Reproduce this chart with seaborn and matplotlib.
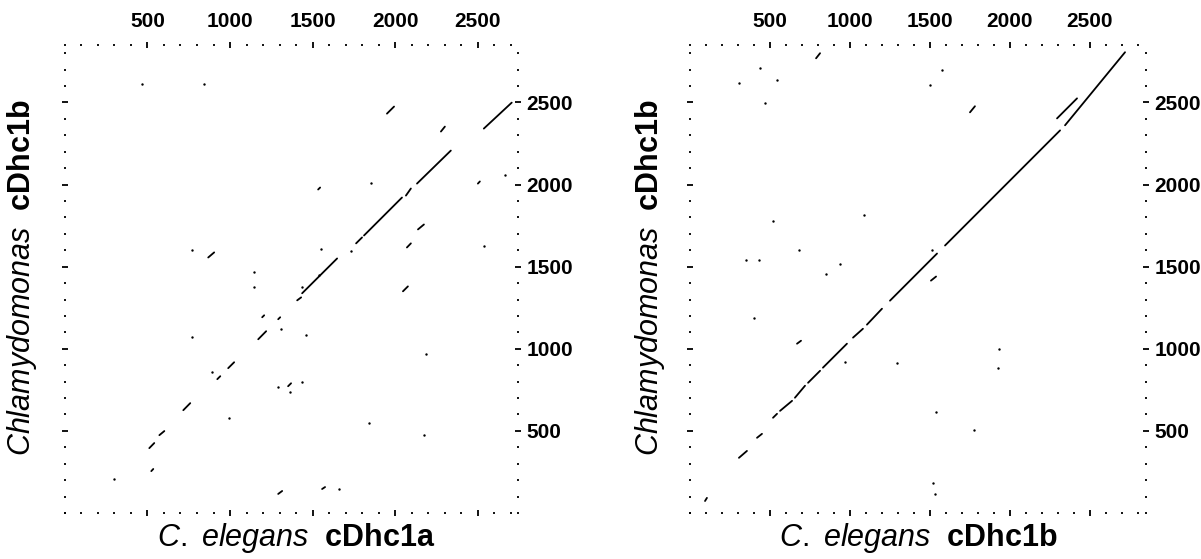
import numpy as np
import pandas as pd
import matplotlib
matplotlib.use('Agg')
import matplotlib.pyplot as plt
import seaborn as sns
from matplotlib.ticker import MultipleLocator

# Left dot plot: C. elegans cDhc1a (x) vs Chlamydomonas cDhc1b (y), residue numbers
left_x0 = [2538, 2278, 1951, 2133, 2066, 1812, 1764, 1437, 1407, 2139, 2072, 868, 2048, 1171,
           989, 923, 1352, 717, 572, 511, 523, 1292, 1558, 1195, 1292, 2502, 1534]
left_y0 = [2341, 2323, 2432, 2006, 1933, 1690, 1642, 1338, 1295, 1727, 1617, 1556, 1350, 1058,
           882, 815, 772, 626, 474, 395, 255, 116, 146, 1192, 1180, 2006, 1970]
left_x1 = [2707, 2302, 1994, 2338, 2096, 2042, 1800, 1649, 1431, 2175, 2096, 904, 2078, 1219,
           1025, 941, 1370, 759, 602, 541, 535, 1316, 1576, 1207, 1304, 2514, 1546]
left_y1 = [2499, 2353, 2475, 2207, 1976, 1921, 1678, 1550, 1313, 1757, 1642, 1587, 1380, 1107,
           918, 833, 790, 669, 499, 426, 268, 134, 158, 1204, 1192, 2019, 1982]
left_dot_x = [1540, 2538, 1552, 771, 1143, 1310, 1364, 1437, 1661, 2175, 299, 469, 844, 2665,
              771, 996, 1843, 2187, 1855, 1734, 1437, 1461, 1146, 892, 1292]
left_dot_y = [1447, 1623, 1605, 1599, 1374, 1119, 736, 796, 146, 474, 207, 2614, 2614, 2061,
              1070, 578, 547, 967, 2012, 1593, 1374, 1082, 1465, 857, 766]

# Right dot plot: C. elegans cDhc1b (x) vs Chlamydomonas cDhc1b (y)
right_x0 = [2344, 1594, 1250, 1106, 1019, 831, 738, 656, 563, 519, 419, 306, 94, 669, 1506,
            788, 2294, 1750]
right_y0 = [2361, 1629, 1293, 1147, 1068, 885, 793, 702, 622, 580, 458, 336, 73, 1031, 1415,
            2769, 2403, 2440]
right_x1 = [2719, 2313, 1544, 1200, 1081, 981, 813, 719, 638, 544, 450, 356, 106, 694, 1538,
            813, 2419, 1781]
right_y1 = [2806, 2330, 1580, 1244, 1122, 1031, 866, 775, 683, 604, 482, 378, 92, 1049, 1440,
            2800, 2525, 2477]
right_dot_x = [519, 1088, 681, 431, 350, 938, 850, 400, 969, 1294, 1931, 1925, 1538, 1775,
               1519, 1531, 1512, 306, 438, 544, 469, 1500, 1575]
right_dot_y = [1781, 1812, 1604, 1543, 1543, 1519, 1458, 1190, 921, 915, 1000, 885, 616, 506,
               183, 116, 1604, 2617, 2708, 2635, 2495, 2605, 2696]

left_xmax, left_ymax = 2745, 2850
right_xmax, right_ymax = 2850, 2850
tick_labels = [500, 1000, 1500, 2000, 2500]

sns.set_style("white")
plt.rcParams['font.family'] = ['Liberation Sans', 'DejaVu Sans']
plt.rcParams['mathtext.fontset'] = 'custom'
plt.rcParams['mathtext.rm'] = 'Liberation Sans'
plt.rcParams['mathtext.it'] = 'Liberation Sans:italic'
plt.rcParams['mathtext.bf'] = 'Liberation Sans:bold'
plt.rcParams['text.color'] = 'black'
plt.rcParams['xtick.color'] = 'black'
plt.rcParams['ytick.color'] = 'black'


def seg_frame(x0, y0, x1, y1):
    rows = []
    for i in range(len(x0)):
        rows.append({'seg': i, 'x': x0[i], 'y': y0[i]})
        rows.append({'seg': i, 'x': x1[i], 'y': y1[i]})
    return pd.DataFrame(rows)


def dot_panel(ax, x0, y0, x1, y1, dx, dy, xmax, ymax):
    segs = seg_frame(x0, y0, x1, y1)
    sns.lineplot(data=segs, x='x', y='y', units='seg', estimator=None, sort=False,
                 color='black', lw=1.3, ax=ax)
    sns.scatterplot(x=dx, y=dy, s=3, color='black', linewidth=0, ax=ax)
    ax.set_xlim(0, xmax)
    ax.set_ylim(0, ymax)
    for sp in ax.spines.values():
        sp.set_visible(False)
    ax.set_xticks(tick_labels)
    ax.set_yticks(tick_labels)
    ax.xaxis.set_minor_locator(MultipleLocator(100))
    ax.yaxis.set_minor_locator(MultipleLocator(100))
    ax.tick_params(which='both', top=True, bottom=True, left=True, right=True,
                   labeltop=True, labelbottom=False, labelleft=False, labelright=True,
                   direction='inout', colors='black')
    ax.tick_params(which='major', length=4, width=1.3)
    ax.tick_params(which='minor', length=2, width=1.3)
    ax.tick_params(axis='x', which='major', pad=8, labelsize=15)
    ax.tick_params(axis='y', which='major', pad=4, labelsize=15)
    for lab in ax.get_xticklabels() + ax.get_yticklabels():
        lab.set_fontweight('bold')
    ax.set_xlabel('')
    ax.set_ylabel('')


fig = plt.figure(figsize=(12.01, 5.59), dpi=100)
ax1 = fig.add_axes([0.0541, 0.0823, 0.3772, 0.8372])
ax2 = fig.add_axes([0.5745, 0.0823, 0.3797, 0.8372])

dot_panel(ax1, left_x0, left_y0, left_x1, left_y1, left_dot_x, left_dot_y, left_xmax, left_ymax)
dot_panel(ax2, right_x0, right_y0, right_x1, right_y1, right_dot_x, right_dot_y, right_xmax, right_ymax)

ylab = r'$\mathit{Chlamydomonas}$  $\mathbf{cDhc1b}$'
fig.text(296 / 1201, 1 - 538 / 559, r'$\mathit{C.\ elegans}$  $\mathbf{cDhc1a}$',
         ha='center', va='center', fontsize=22)
fig.text(918 / 1201, 1 - 538 / 559, r'$\mathit{C.\ elegans}$  $\mathbf{cDhc1b}$',
         ha='center', va='center', fontsize=22)
fig.text(22 / 1201, 1 - 278 / 559, ylab, ha='center', va='center', rotation=90, fontsize=22)
fig.text(650 / 1201, 1 - 278 / 559, ylab, ha='center', va='center', rotation=90, fontsize=22)

fig.savefig('out.png', dpi=100)
plt.close()
